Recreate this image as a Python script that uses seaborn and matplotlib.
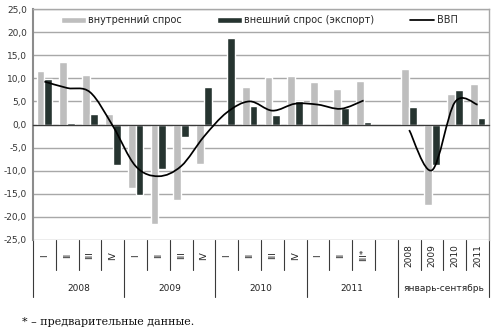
import numpy as np
import pandas as pd
import matplotlib
matplotlib.use("Agg")
import matplotlib.pyplot as plt
import seaborn as sns
from matplotlib.path import Path
from matplotlib.patches import PathPatch, Patch
from matplotlib.lines import Line2D

# Category slots: quarters 2008-2011, an empty gap, then January-September totals
quarter_labels = ["I", "II", "III", "IV", "I", "II", "III", "IV",
                  "I", "II", "III", "IV", "I", "II", "III*", "",
                  "2008", "2009", "2010", "2011"]
group_labels = ["2008", "2009", "2010", "2011", "январь-сентябрь"]
group_edges = [-0.5, 3.5, 7.5, 11.5, 15.5, 19.5]

# Contributions, % y/y
domestic = [11.5, 13.6, 10.8, 2.2, -13.8, -21.6, -16.4, -8.5, 0.4, 8.2,
            10.2, 10.6, 9.3, 7.6, 9.5, np.nan, 12.0, -17.4, 6.6, 8.8]
external = [9.9, 0.4, 2.2, -8.7, -15.2, -9.6, -2.7, 8.2, 18.7, 4.1,
            2.1, 5.0, 0.0, 3.5, 0.5, np.nan, 3.7, -8.7, 7.5, 1.4]
# GDP growth: quarterly run (slots 0-14) and Jan-Sep run (slots 16-19)
gdp_quarterly = [9.3, 7.9, 7.0, -0.3, -9.0, -11.2, -9.0, -2.6, 2.6, 5.0,
                 3.0, 4.5, 4.3, 3.4, 5.2]
gdp_ytd = [-1.2, -9.9, 4.8, 4.3]

series_names = ["внутренний спрос", "внешний спрос (экспорт)", "ВВП"]
colors = {"внутренний спрос": "#BEBEBE", "внешний спрос (экспорт)": "#263430"}

sns.set_theme(style="white")
plt.rcParams["font.family"] = ["DejaVu Sans"]

W, H = 496, 331
fig = plt.figure(figsize=(W / 100, H / 100), dpi=100)
ax = fig.add_axes([33 / W, 1 - 240 / H, (489 - 33) / W, 231 / H])

n = len(quarter_labels)
df = pd.DataFrame({
    "pos": list(range(n)) * 2,
    "series": [series_names[0]] * n + [series_names[1]] * n,
    "value": domestic + external,
})
sns.barplot(data=df, x="pos", y="value", hue="series", order=list(range(n)),
            hue_order=series_names[:2], palette=colors, width=0.68, gap=0,
            errorbar=None, saturation=1, legend=False, ax=ax)


def smooth_path(xs, ys):
    """Bezier path through the points, like a smoothed spreadsheet line."""
    pts = np.column_stack([xs, ys]).astype(float)
    verts, codes = [pts[0]], [Path.MOVETO]
    m = len(pts)
    for i in range(m - 1):
        p0 = pts[i - 1] if i > 0 else pts[i]
        p1, p2 = pts[i], pts[i + 1]
        p3 = pts[i + 2] if i + 2 < m else pts[i + 1]
        verts += [p1 + (p2 - p0) / 6, p2 - (p3 - p1) / 6, p2]
        codes += [Path.CURVE4] * 3
    return Path(verts, codes)


for xs, ys in [(range(0, 15), gdp_quarterly), (range(16, 20), gdp_ytd)]:
    ax.add_patch(PathPatch(smooth_path(list(xs), ys), fill=False,
                           edgecolor="black", lw=1.25, zorder=4))

ax.set_xlim(-0.5, n - 0.5)
ax.set_ylim(-25, 25)
ax.set_xlabel("")
ax.set_ylabel("")

# value axis
yt = np.arange(-25, 26, 5)
ax.set_yticks(yt)
ax.set_yticklabels([f"{v:.1f}".replace(".", ",") for v in yt])
ax.tick_params(axis="y", direction="inout", length=5, width=1, color="#8C8C8C",
               labelsize=6.5, labelcolor="#333333", pad=2)
ax.yaxis.grid(True, color="#A8A8A8", lw=1)
ax.set_axisbelow(True)

# category axis crossing at zero with ticks on slot boundaries
ax.spines["bottom"].set_position(("data", 0))
ax.spines["bottom"].set_color("#3A3A3A")
ax.spines["bottom"].set_linewidth(0.9)
ax.set_xticks(np.arange(-0.5, n, 1))
ax.set_xticklabels([])
ax.tick_params(axis="x", direction="out", length=3, width=0.8, color="#3A3A3A")
ax.spines["left"].set_color("#8C8C8C")
ax.spines["left"].set_linewidth(1.5)
for s in ("top", "right"):
    ax.spines[s].set_color("#A8A8A8")
    ax.spines[s].set_linewidth(1)

# two-level category labels under the plot
tr = ax.get_xaxis_transform()
for i, lab in enumerate(quarter_labels):
    ax.text(i, -0.066, lab, transform=tr, rotation=90, ha="center", va="center",
            fontsize=6.5, color="#222222")
for k, lab in enumerate(group_labels):
    mid = (group_edges[k] + group_edges[k + 1]) / 2
    ax.text(mid, -0.208, lab, transform=tr, ha="center", va="center",
            fontsize=6.5, color="#222222")
for b in np.arange(-0.5, n, 1):
    bottom = -0.247 if b in group_edges else -0.13
    ax.add_line(Line2D([b, b], [0, bottom], transform=tr, color="#3A3A3A",
                       lw=0.8, clip_on=False))

handles = [Patch(facecolor=colors[series_names[0]]),
           Patch(facecolor=colors[series_names[1]]),
           Line2D([], [], color="black", lw=1.25)]
ax.legend(handles, series_names, ncol=3, loc="center left",
          bbox_to_anchor=(0.062, 0.952), frameon=False, fontsize=7,
          handlelength=2.5, handleheight=0.6, handletextpad=0.3,
          columnspacing=3.6, borderpad=0, borderaxespad=0)

fig.text(22 / W, 1 - 322 / H, "* – предварительные данные.",
         family="DejaVu Serif", fontsize=8, va="center", color="#111111")

fig.savefig("out.png", dpi=100)
